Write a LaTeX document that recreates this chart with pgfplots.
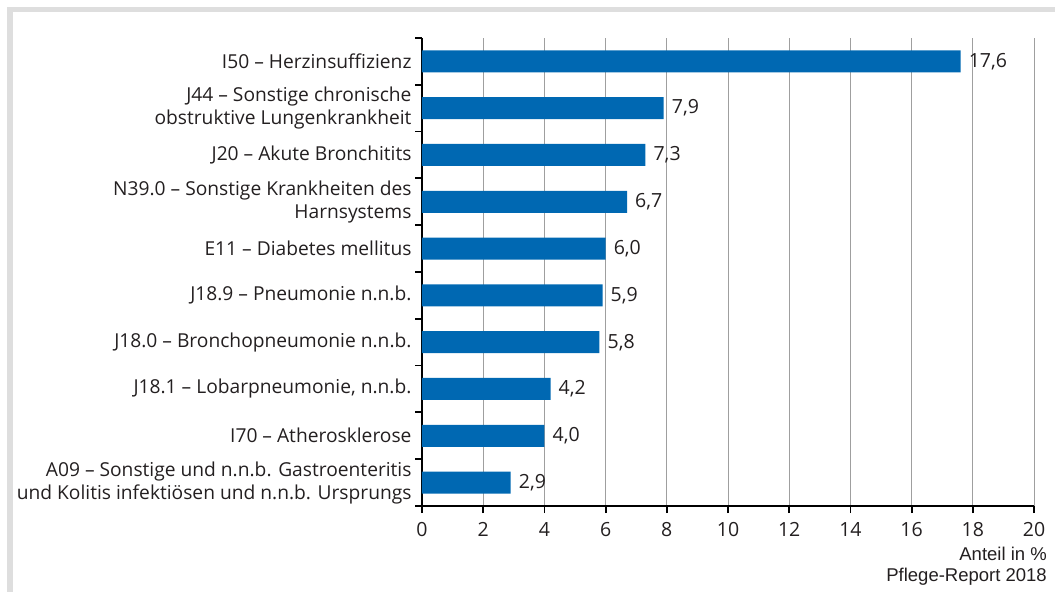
\documentclass[border=0pt]{standalone}
\usepackage{fontspec}
\setmainfont{Open Sans}
\newfontfamily\arialfont{Liberation Sans}
\usepackage{pgfplots}
\pgfplotsset{compat=1.18}
\definecolor{barblue}{RGB}{0,104,178}
\definecolor{txt}{HTML}{231F20}
\definecolor{frame}{HTML}{DEDEDE}
\begin{document}
\begin{tikzpicture}[x=1pt,y=1pt]
\path[use as bounding box] (0,0) rectangle (1055,592);
\fill[frame] (7,0) rectangle (12.7,585);
\fill[frame] (7,579.5) rectangle (1055,585);
\begin{axis}[
  at={(422pt,86pt)}, anchor=south west,
  scale only axis, width=612pt, height=468pt,
  xmin=0, xmax=20, ymin=-0.5, ymax=9.5,
  xtick={0,2,...,20},
  ytick={-0.5,0.5,...,9.5},
  yticklabels={{A09 -- Sonstige und n.n.b. Gastroenteritis\\und Kolitis infektiösen und n.n.b. Ursprungs},
    {I70 -- Atherosklerose},
    {J18.1 -- Lobarpneumonie, n.n.b.},
    {J18.0 -- Bronchopneumonie n.n.b.},
    {J18.9 -- Pneumonie n.n.b.},
    {E11 -- Diabetes mellitus},
    {N39.0 -- Sonstige Krankheiten des\\Harnsystems},
    {J20 -- Akute Bronchitits},
    {J44 -- Sonstige chronische\\obstruktive Lungenkrankheit},
    {I50 -- Herzinsuffizienz},
    {}},
  yticklabel style={align=right, yshift=23.4pt, font=\fontsize{19.2}{23}\selectfont, text=txt},
  xticklabel style={font=\fontsize{19.5}{23}\selectfont, text=txt, yshift=-6pt},
  /pgf/number format/assume math mode=true,
  axis lines*=left,
  axis line style={-, line width=1.8pt, black},
  tick align=outside,
  major tick length=7pt,
  tick style={line width=1.8pt, black},
  xmajorgrids,
  grid style={line width=1pt, color=gray!75},
  xbar, bar width=22pt,
  nodes near coords={\pgfmathprintnumber[fixed,fixed zerofill,precision=1,use comma]{\pgfplotspointmeta}},
  nodes near coords style={anchor=west, inner sep=0pt, xshift=8pt, font=\fontsize{19.5}{23}\selectfont, text=txt},
  clip=false,
]
\addplot[fill=barblue, draw=none] coordinates {
  (2.9,0) (4.0,1) (4.2,2) (5.8,3) (5.9,4) (6.0,5) (6.7,6) (7.3,7) (7.9,8) (17.6,9)
};
\end{axis}
\node[anchor=base east, inner sep=0pt, text=txt, font=\arialfont\fontsize{18.5}{22}\selectfont] at (1047,31.3) {Anteil in \%};
\node[anchor=base east, inner sep=0pt, text=txt, font=\arialfont\fontsize{18.5}{22}\selectfont] at (1047,10.3) {Pflege-Report 2018};
\end{tikzpicture}
\end{document}
